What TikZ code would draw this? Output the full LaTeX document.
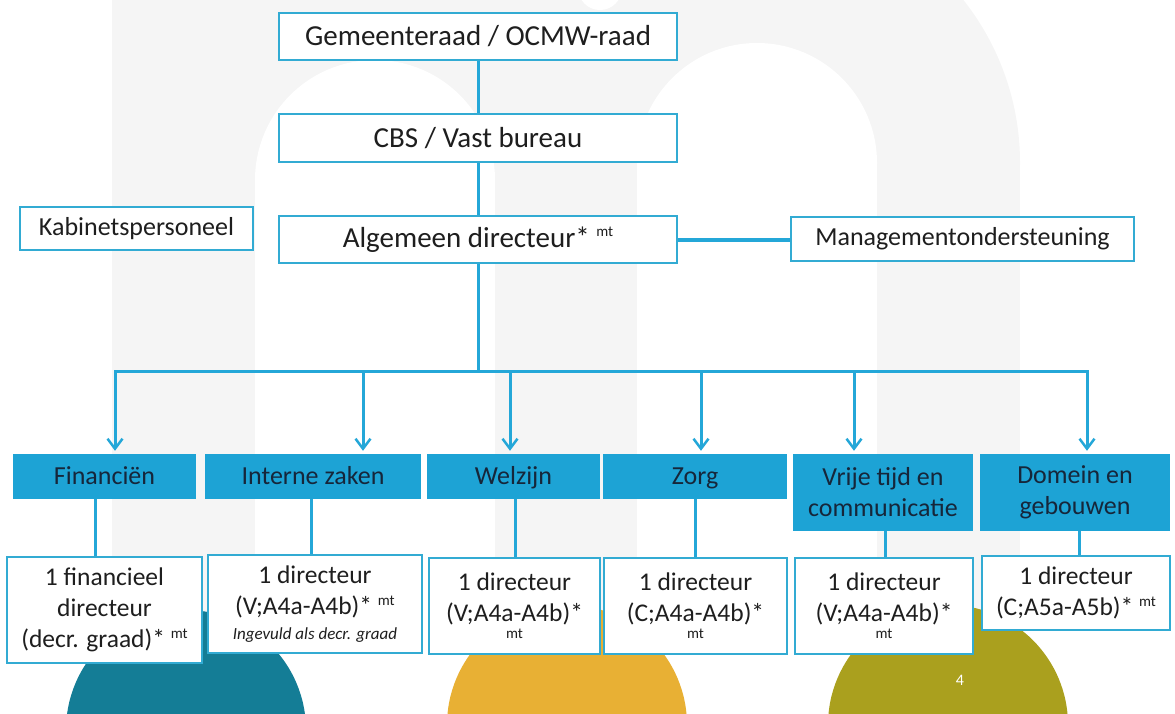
\documentclass[tikz,border=0pt]{standalone}
\usepackage{fontspec}
\setmainfont{Carlito}
\usetikzlibrary{arrows.meta}
\definecolor{lineblue}{RGB}{36,167,216}
\definecolor{boxblue}{RGB}{29,163,213}
\definecolor{bordblue}{RGB}{50,171,211}
\definecolor{bggrey}{RGB}{245,245,245}
\definecolor{footteal}{RGB}{20,125,150}
\definecolor{footyellow}{RGB}{232,176,52}
\definecolor{footolive}{RGB}{170,160,30}
\definecolor{navytext}{RGB}{22,38,58}
\definecolor{darktext}{RGB}{30,30,30}
\newcommand{\supmt}{\raisebox{0.75ex}{\fontsize{15}{15}\selectfont mt}}
\newcommand{\lowmt}{{\fontsize{15}{15}\selectfont mt}}
\begin{document}
\begin{tikzpicture}[x=1pt,y=-1pt,
  wbox/.style={draw=bordblue, line width=2.2pt, fill=white, text=darktext, align=center, inner sep=0pt, font=\fontsize{25.5}{31}\selectfont},
  topbox/.style={wbox, font=\fontsize{29}{34}\selectfont},
  sidebox/.style={wbox, font=\fontsize{26}{31}\selectfont},
  bbox/.style={fill=boxblue, text=navytext, align=center, inner sep=0pt, font=\fontsize{26}{31}\selectfont},
  onebox/.style={bbox, text height=20pt, text depth=4pt},
  conn/.style={draw=lineblue, line width=3pt},
  tipstyle/.tip={Straight Barb[length=10pt,width=15pt,line width=2.5pt]},
  arr/.style={conn, -tipstyle, shorten >=3pt},
  pagenum/.style={text=white, font=\fontsize{16}{16}\selectfont}
]
\useasboundingbox (0,0) rectangle (1175,713);
\clip (0,0) rectangle (1175,713);

% background "m"
\fill[bggrey] (112,-5) rectangle (637,700);
\fill[bggrey] (757,163) circle[radius=263pt];
\fill[bggrey] (495,163) rectangle (1020,700);
\fill[white] (600,-12) circle[radius=22pt];
\fill[white] (375,180) circle[radius=120pt];
\fill[white] (255,180) rectangle (495,700);
\fill[white] (757,163) circle[radius=120pt];
\fill[white] (637,163) rectangle (877,700);

% coloured feet
\fill[footteal] (186,730) circle[radius=120pt];
\fill[footyellow] (567,725) circle[radius=120pt];
\fill[footolive] (948,725) circle[radius=120pt];
\node[pagenum] (pnum) at (960,680) {4};

% top levels
\node[topbox, minimum width=398pt, minimum height=47pt] (gem) at (478,36.5) {Gemeenteraad / OCMW-raad};
\node[topbox, minimum width=398pt, minimum height=48pt] (cbs) at (478,138) {CBS / Vast bureau};
\node[topbox, minimum width=398pt, minimum height=47pt] (alg) at (478,239.5) {Algemeen directeur* \supmt};
\node[sidebox, minimum width=233pt, minimum height=43pt] (kab) at (136.5,228.5) {Kabinetspersoneel};
\node[sidebox, minimum width=343pt, minimum height=44pt] (man) at (962.5,239) {Managementondersteuning};

\draw[conn] (gem.south) -- (cbs.north);
\draw[conn] (cbs.south) -- (alg.north);
\draw[conn, line width=4pt] (alg.east) -- (alg.east -| man.west);

% departments
\node[onebox, minimum width=183pt, minimum height=45pt] (fin) at (104.5,476.5) {Financiën};
\node[onebox, minimum width=216pt, minimum height=45pt] (int) at (313,476.5) {Interne zaken};
\node[onebox, minimum width=173pt, minimum height=45pt] (wel) at (513.5,476.5) {Welzijn};
\node[onebox, minimum width=184pt, minimum height=45pt] (zor) at (695,476.5) {Zorg};
\node[bbox, minimum width=180pt, minimum height=77pt] (vri) at (883,492.5) {Vrije tijd en\\communicatie};
\node[bbox, minimum width=190pt, minimum height=77pt] (dom) at (1075,492.5) {Domein en\\gebouwen};

% bus
\coordinate (bfin) at (115,371);
\coordinate (bint) at (363,371);
\coordinate (bwel) at (510,371);
\coordinate (bzor) at (701,371);
\coordinate (bvri) at (854,371);
\coordinate (bdom) at (1087,371);
\draw[conn] (alg.south) -- (alg.south |- bfin);
\draw[conn, tipstyle-tipstyle, shorten >=3pt, shorten <=3pt] (bdom |- dom.north) -- (bdom) -- (bfin) -- (bfin |- fin.north);
\draw[arr] (bint) -- (bint |- int.north);
\draw[arr] (bwel) -- (bwel |- wel.north);
\draw[arr] (bzor) -- (bzor |- zor.north);
\draw[arr] (bvri) -- (bvri |- vri.north);

% directors
\node[wbox, minimum width=195pt, minimum height=106pt] (fdir) at (104.5,610) {1 financieel\\directeur\\(decr. graad)* \supmt};
\node[wbox, minimum width=214pt, minimum height=98pt] (idir) at (315,604) {1 directeur\\(V;A4a-A4b)* \supmt\\[-6pt]{\fontsize{17}{20}\selectfont\itshape Ingevuld als decr. graad}};
\node[wbox, minimum width=171pt, minimum height=96pt] (wdir) at (514.5,606) {1 directeur\\(V;A4a-A4b)*\\[-14pt]\lowmt};
\node[wbox, minimum width=183pt, minimum height=96pt] (zdir) at (695.5,606) {1 directeur\\(C;A4a-A4b)*\\[-14pt]\lowmt};
\node[wbox, minimum width=178pt, minimum height=96pt] (vdir) at (884,606) {1 directeur\\(V;A4a-A4b)*\\[-14pt]\lowmt};
\node[wbox, minimum width=188pt, minimum height=74pt] (ddir) at (1076,593) {1 directeur\\(C;A5a-A5b)* \supmt};

\draw[conn] ([xshift=-9.5pt]fin.south) -- ([xshift=-9.5pt]fin.south |- fdir.north);
\draw[conn] ([xshift=-2pt]int.south) -- ([xshift=-2pt]int.south |- idir.north);
\draw[conn] ([xshift=1.5pt]wel.south) -- ([xshift=1.5pt]wel.south |- wdir.north);
\draw[conn] (zor.south) -- (zor.south |- zdir.north);
\draw[conn] ([xshift=2pt]vri.south) -- ([xshift=2pt]vri.south |- vdir.north);
\draw[conn] ([xshift=4pt]dom.south) -- ([xshift=4pt]dom.south |- ddir.north);
\end{tikzpicture}
\end{document}
